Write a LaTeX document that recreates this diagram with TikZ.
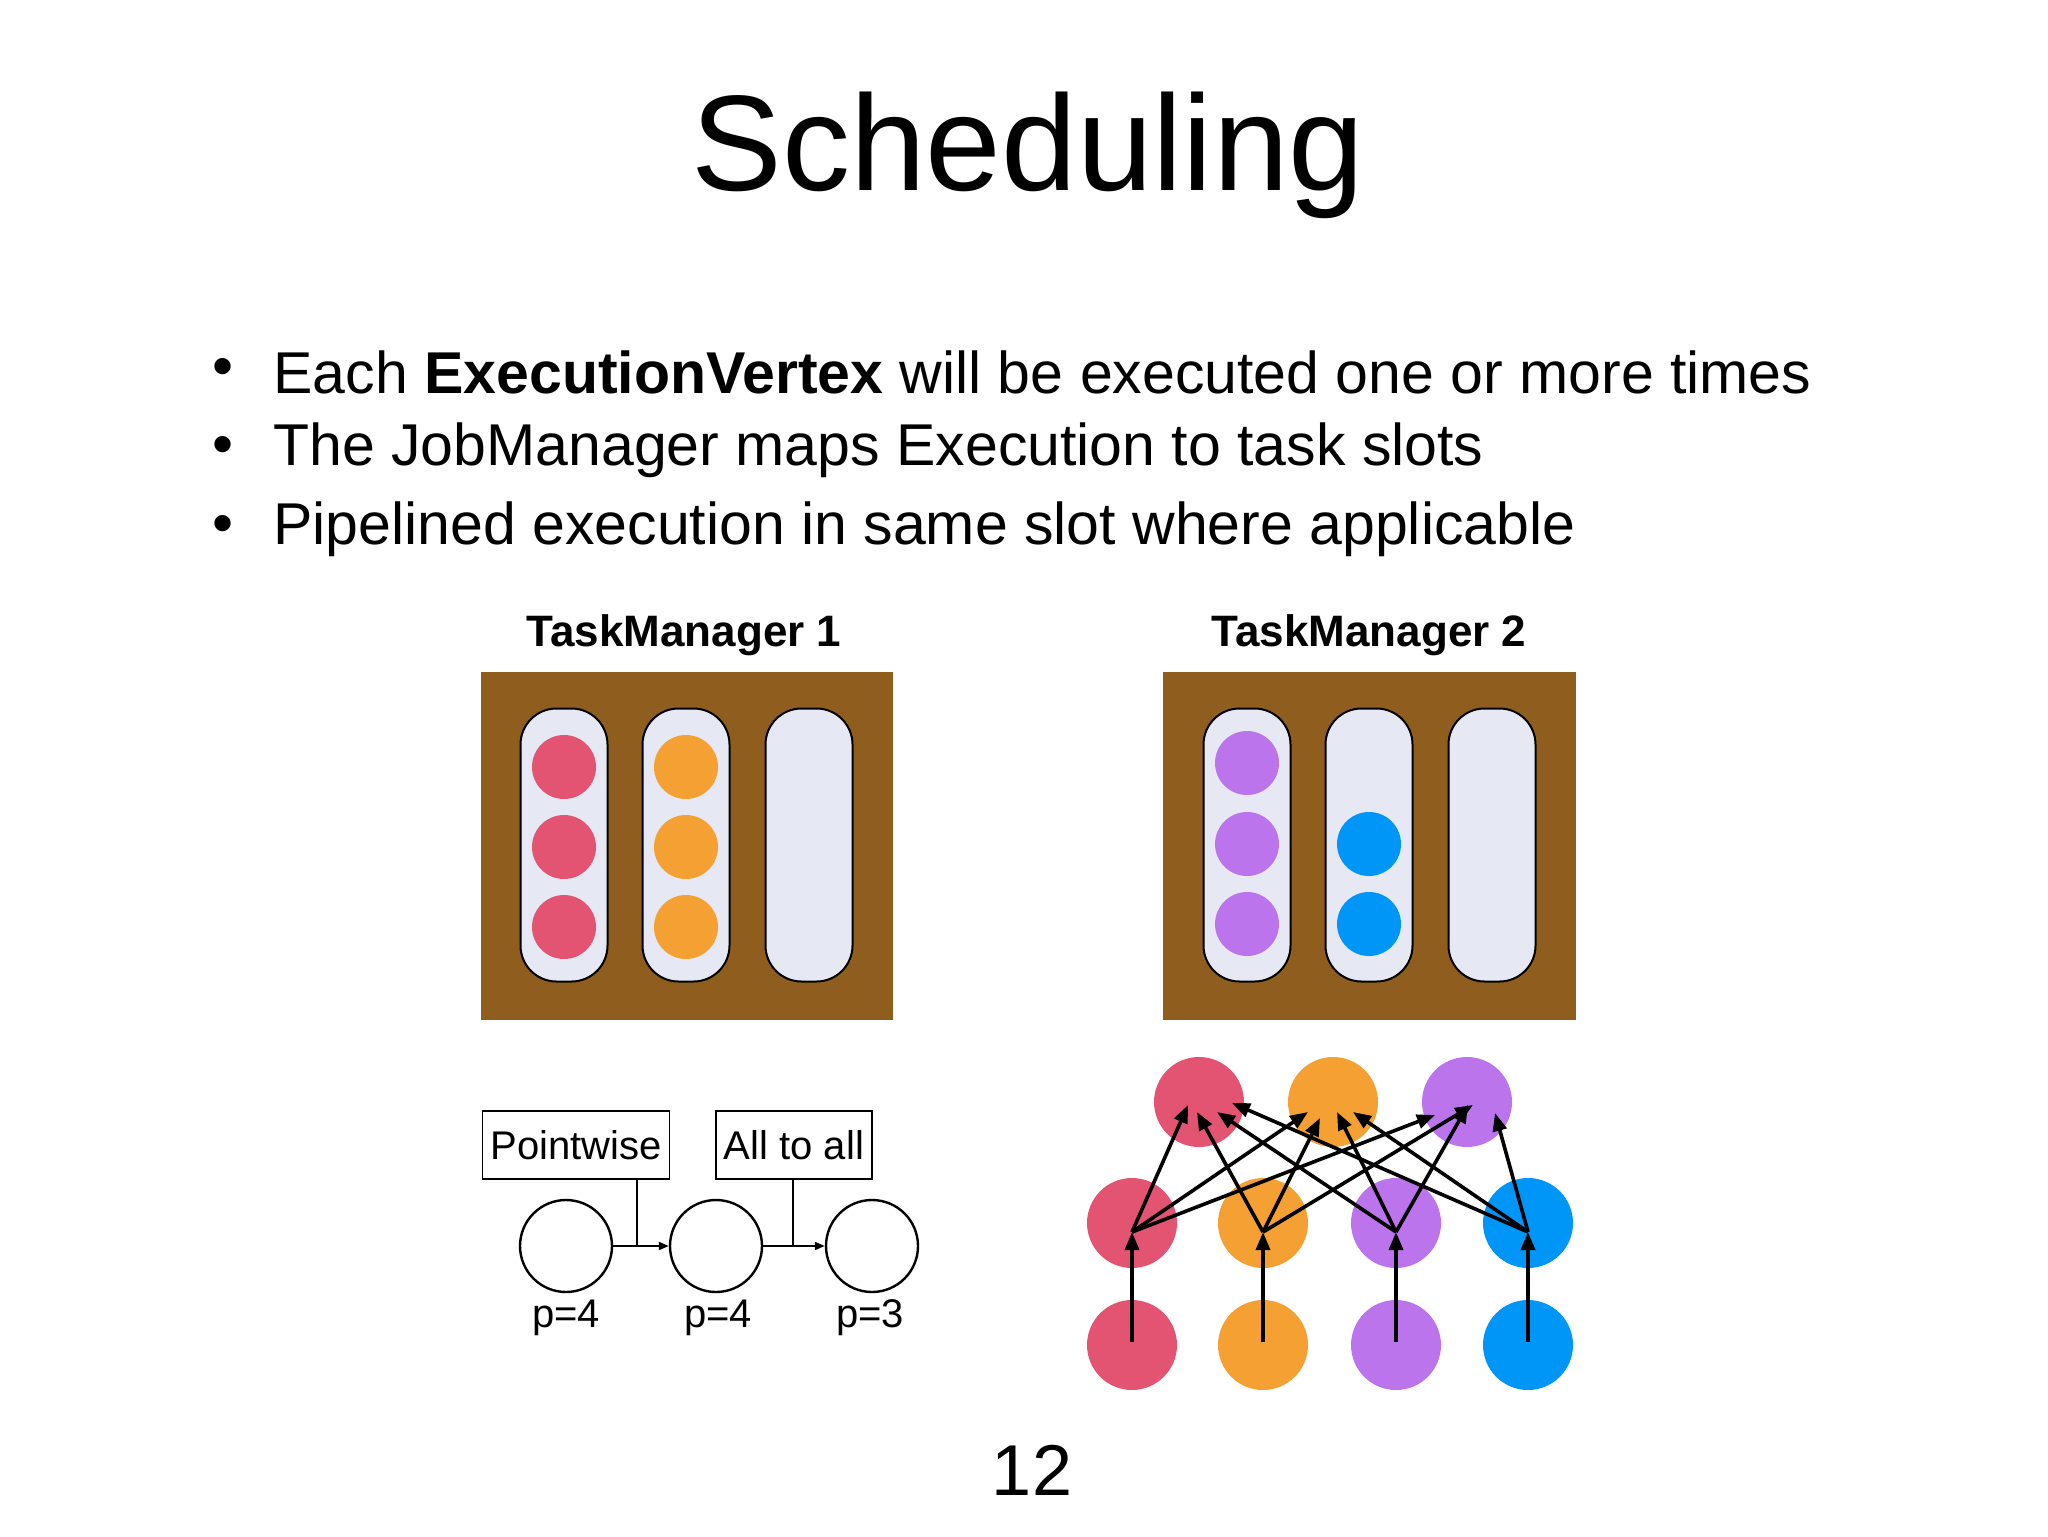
\documentclass[tikz,border=0pt]{standalone}
\usepackage{fontspec}
\setmainfont{Liberation Sans}
\usetikzlibrary{arrows.meta}
\definecolor{cred}{HTML}{E35473}
\definecolor{corg}{HTML}{F5A033}
\definecolor{cpur}{HTML}{BB74EC}
\definecolor{cblu}{HTML}{0096F8}
\definecolor{brown}{HTML}{8F5E1F}
\definecolor{slotc}{HTML}{E6E9F4}
\begin{document}
\begin{tikzpicture}[x=0.5pt,y=-0.5pt,
  slotbox/.style={draw=black,line width=1pt,fill=slotc,rounded corners=18pt,minimum width=43.5pt,minimum height=136.5pt,inner sep=0pt},
  dot/.style={circle,fill=#1,minimum size=32pt,inner sep=0pt},
  gdot/.style={circle,fill=#1,minimum size=45pt,inner sep=0pt},
  ring/.style={circle,draw=black,line width=1.2pt,minimum size=46pt,inner sep=0pt},
  arr/.style={-{Triangle[length=9pt,width=7pt]},line width=1.8pt},
  sarr/.style={-{Triangle[length=5pt,width=4pt]},line width=1pt},
  lbox/.style={draw=black,line width=0.8pt,font=\fontsize{20}{24}\selectfont,minimum height=34pt,inner xsep=4pt}]
\useasboundingbox (0,0) rectangle (2048,1536);
\node (title) at (1028,155) {\fontsize{68}{80}\selectfont Scheduling};
\foreach \y/\t [count=\i] in {372/{Each \textbf{ExecutionVertex} will be executed one or more times},450/{The JobManager maps Execution to task slots},529/{Pipelined execution in same slot where applicable}}{
  \node (b\i) at (223,\y) {\fontsize{30}{36}\selectfont\textbullet};
  \node[anchor=west,inner sep=0pt] (t\i) at (273,\y) {\fontsize{29.5}{36}\selectfont \t};
}
\node[font=\bfseries\fontsize{22}{26}\selectfont] (tm1) at (684,635) {TaskManager 1};
\node[font=\bfseries\fontsize{22}{26}\selectfont] (tm2) at (1369,635) {TaskManager 2};
\fill[brown] (481,672) rectangle (893,1020);
\fill[brown] (1163,672) rectangle (1576,1020);
\foreach \x [count=\i] in {564,686,809}{\node[slotbox] (sa\i) at (\x,845) {};}
\foreach \x [count=\i] in {1247,1369,1492}{\node[slotbox] (sb\i) at (\x,845) {};}
\foreach \y [count=\i] in {767,847,927}{
  \node[dot=cred] (ra\i) at (564,\y) {};
  \node[dot=corg] (oa\i) at (686,\y) {};
}
\foreach \y [count=\i] in {763,844,924}{\node[dot=cpur] (pb\i) at (1247,\y) {};}
\node[dot=cblu] (bb1) at (1369,844) {};
\node[dot=cblu] (bb2) at (1369,924) {};
% pipeline
\node[lbox] (pw) at (576,1145) {Pointwise};
\node[lbox] (ata) at (794,1145) {All to all};
\node[ring] (c1) at (566,1246) {};
\node[ring] (c2) at (716,1246) {};
\node[ring] (c3) at (872,1246) {};
\draw[sarr] (c1) -- (c2);
\draw[sarr] (c2) -- (c3);
\coordinate (pwm) at (637,1246);
\coordinate (atm) at (793,1246);
\draw[line width=0.8pt] (pw.south -| pwm) -- (pwm);
\draw[line width=0.8pt] (ata.south -| atm) -- (atm);
\foreach \x/\n in {566/1,718/2,870/3}{}
\node[font=\fontsize{20}{24}\selectfont] (p1) at (566,1318) {p=4};
\node[font=\fontsize{20}{24}\selectfont] (p2) at (718,1318) {p=4};
\node[font=\fontsize{20}{24}\selectfont] (p3) at (870,1318) {p=3};
% graph
\foreach \x/\c [count=\i] in {1132/cred,1263/corg,1396/cpur,1528/cblu}{
  \node[gdot=\c] (g\i) at (\x,1345) {};
  \node[gdot=\c] (m\i) at (\x,1223) {};
  \coordinate (ms\i) at (\x,1232);
  \coordinate (bs\i) at (\x,1342);
}
\foreach \x/\c [count=\i] in {1199/cred,1333/corg,1467/cpur}{\node[gdot=\c] (u\i) at (\x,1102) {};}
\foreach \i in {1,...,4}{\draw[arr] (bs\i) -- (ms\i);}
\draw[arr] (ms1) -- (1188,1105);
\draw[arr] (ms1) -- (1308,1112);
\draw[arr] (ms1) -- (1435,1115);
\draw[arr] (ms2) -- (1197,1112);
\draw[arr] (ms2) -- (1320,1118);
\draw[arr] (ms2) -- (1473,1105);
\draw[arr] (ms3) -- (1217,1112);
\draw[arr] (ms3) -- (1337,1112);
\draw[arr] (ms3) -- (1468,1105);
\draw[arr] (ms4) -- (1232,1103);
\draw[arr] (ms4) -- (1353,1112);
\draw[arr] (ms4) -- (1495,1113);
\node (num) at (1032,1470) {\fontsize{36}{42}\selectfont 12};
\end{tikzpicture}
\end{document}
